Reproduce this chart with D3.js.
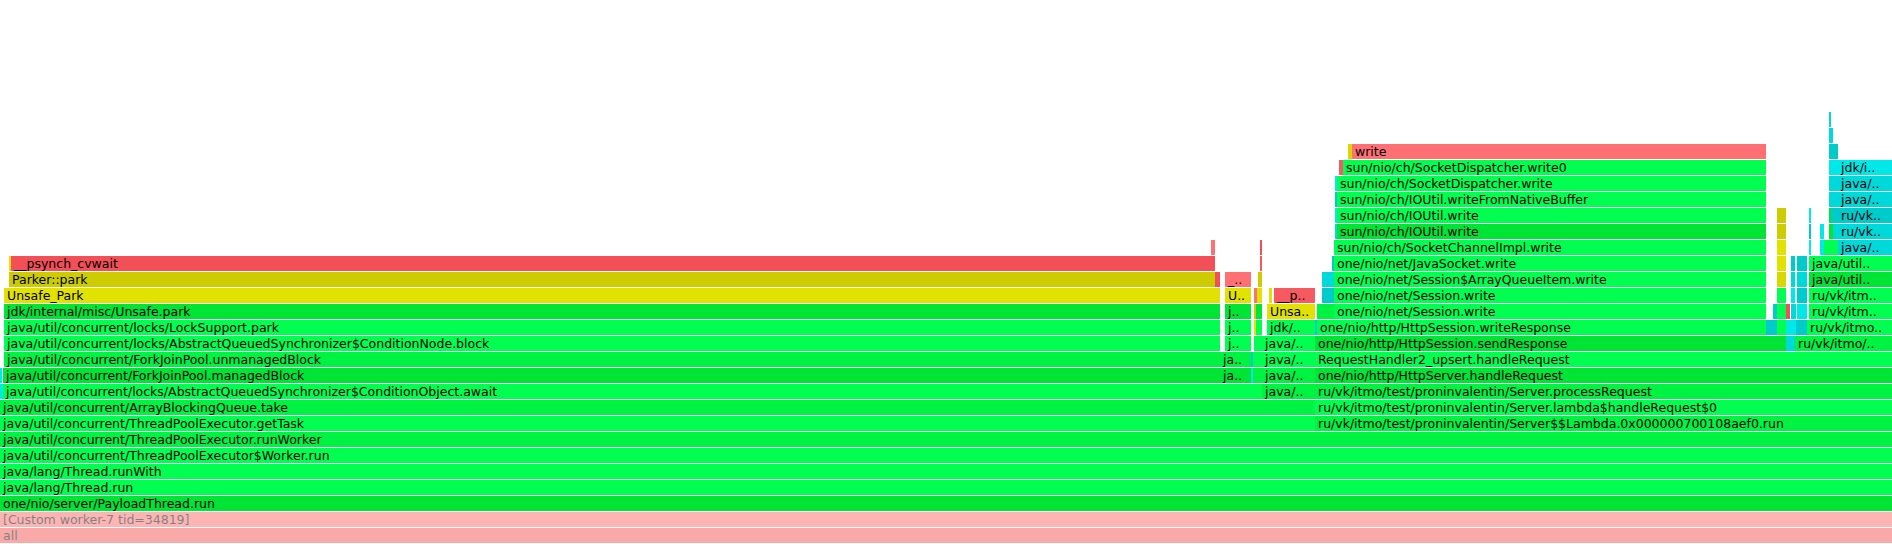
<!DOCTYPE html>
<html>
<head>
<meta charset="utf-8">
<script src="https://cdn.jsdelivr.net/npm/d3@7"></script>
<style>
  html, body { margin: 0; padding: 0; background: #ffffff; }
  svg { display: block; }
</style>
</head>
<body>
<svg id="chart"></svg>
<script>
// ---------------- DATA (sample counts) ----------------
const totalSamples = 9460;

// Each frame: [depth, first sample, samples, frame kind, name]
const threadFrames = [
  [0, 0, 9460, 'root', 'all'],
  [1, 0, 9460, 'thread', '[Custom worker-7 tid=34819]'],
  [2, 0, 9460, 'jit', 'one/nio/server/PayloadThread.run'],
  [3, 0, 9460, 'jit', 'java/lang/Thread.run'],
  [4, 0, 9460, 'jit', 'java/lang/Thread.runWith'],
  [5, 0, 9460, 'jit', 'java/util/concurrent/ThreadPoolExecutor$Worker.run'],
  [6, 0, 9460, 'jit', 'java/util/concurrent/ThreadPoolExecutor.runWorker'],
  [7, 0, 6575, 'jit', 'java/util/concurrent/ThreadPoolExecutor.getTask'],
  [8, 0, 6575, 'jit', 'java/util/concurrent/ArrayBlockingQueue.take']
];

const parkFrames = [
  [9, 0, 15, 'inl', 'java/util/concurrent/locks/AbstractQueuedSynchronizer$ConditionObject.enableWait'],
  [9, 15, 6295, 'jit', 'java/util/concurrent/locks/AbstractQueuedSynchronizer$ConditionObject.await'],
  [10, 0, 10, 'inl', 'java/util/concurrent/locks/AbstractQueuedSynchronizer.release'],
  [10, 15, 6085, 'jit', 'java/util/concurrent/ForkJoinPool.managedBlock'],
  [11, 20, 6080, 'jit', 'java/util/concurrent/ForkJoinPool.unmanagedBlock'],
  [12, 20, 6080, 'jit', 'java/util/concurrent/locks/AbstractQueuedSynchronizer$ConditionNode.block'],
  [13, 20, 6080, 'jit', 'java/util/concurrent/locks/LockSupport.park'],
  [14, 20, 6080, 'jit', 'jdk/internal/misc/Unsafe.park'],
  [15, 20, 6080, 'cpp', 'Unsafe_Park'],
  [16, 45, 6030, 'cpp', 'Parker::park'],
  [16, 6075, 25, 'nat', 'pthread_mutex_unlock'],
  [17, 45, 10, 'cpp', 'JavaThread::is_interrupted'],
  [17, 55, 6000, 'nat', '__psynch_cvwait'],
  [17, 6055, 20, 'nat', '_pthread_cond_wait'],
  [18, 6055, 20, 'nat', '__psynch_cvwait']
];

const signalFrames = [
  [10, 6100, 155, 'jit', 'java/util/concurrent/ForkJoinPool.managedBlock'],
  [10, 6255, 10, 'inl', 'java/util/concurrent/locks/AbstractQueuedSynchronizer.signalNext'],
  [10, 6265, 45, 'jit', 'java/util/concurrent/locks/AbstractQueuedSynchronizer.acquire'],
  [11, 6100, 155, 'jit', 'java/util/concurrent/ForkJoinPool.unmanagedBlock'],
  [11, 6255, 10, 'inl', 'java/util/concurrent/locks/LockSupport.unpark'],
  [11, 6265, 45, 'jit', 'java/util/concurrent/locks/AbstractQueuedSynchronizer.acquire'],
  [12, 6125, 130, 'jit', 'java/util/concurrent/locks/AbstractQueuedSynchronizer$ConditionNode.block'],
  [12, 6270, 40, 'jit', 'java/util/concurrent/locks/LockSupport.park'],
  [13, 6125, 130, 'jit', 'java/util/concurrent/locks/LockSupport.park'],
  [13, 6270, 10, 'cpp', 'ThreadStateTransition::trans'],
  [13, 6280, 30, 'jit', 'jdk/internal/misc/Unsafe.park'],
  [14, 6125, 130, 'jit', 'jdk/internal/misc/Unsafe.park'],
  [14, 6270, 10, 'cpp', 'JavaThreadParkedState::JavaThreadParkedState'],
  [14, 6280, 30, 'jit', 'jdk/internal/misc/Unsafe.park'],
  [15, 6125, 130, 'cpp', 'Unsafe_Park'],
  [15, 6270, 15, 'nat', 'pthread_mutex_trylock'],
  [15, 6285, 25, 'cpp', 'Unsafe_Park'],
  [16, 6125, 130, 'nat', '__psynch_cvwait'],
  [16, 6290, 20, 'cpp', 'Parker::park'],
  [17, 6300, 10, 'nat', '_pthread_cond_wait'],
  [18, 6300, 10, 'nat', '__psynch_cvwait']
];

const lockFrames = [
  [9, 6310, 265, 'jit', 'java/util/concurrent/locks/ReentrantLock.lockInterruptibly'],
  [10, 6310, 265, 'jit', 'java/util/concurrent/locks/ReentrantLock$Sync.lockInterruptibly'],
  [11, 6310, 265, 'jit', 'java/util/concurrent/locks/AbstractQueuedSynchronizer.acquire'],
  [12, 6310, 265, 'jit', 'java/util/concurrent/locks/LockSupport.park'],
  [13, 6335, 240, 'jit', 'jdk/internal/misc/Unsafe.park'],
  [14, 6335, 240, 'cpp', 'Unsafe_Park'],
  [15, 6345, 15, 'cpp', 'Parker::park'],
  [15, 6370, 205, 'nat', '__psynch_cvwait']
];

const requestFrames = [
  [7, 6575, 2885, 'jit', 'ru/vk/itmo/test/proninvalentin/Server$$Lambda.0x000000700108aef0.run'],
  [8, 6575, 2885, 'jit', 'ru/vk/itmo/test/proninvalentin/Server.lambda$handleRequest$0'],
  [9, 6575, 2885, 'jit', 'ru/vk/itmo/test/proninvalentin/Server.processRequest'],
  [10, 6575, 2885, 'jit', 'one/nio/http/HttpServer.handleRequest'],
  [11, 6575, 2885, 'jit', 'RequestHandler2_upsert.handleRequest'],
  [12, 6575, 2355, 'jit', 'one/nio/http/HttpSession.sendResponse'],
  [12, 8930, 45, 'inl', 'one/nio/http/Request.getParameter'],
  [12, 8975, 485, 'jit', 'ru/vk/itmo/test/proninvalentin/Server.upsert'],
  [13, 6575, 10, 'inl', 'one/nio/http/Response.toBytes'],
  [13, 6585, 2245, 'jit', 'one/nio/http/HttpSession.writeResponse'],
  [13, 8830, 55, 'inl', 'one/nio/http/Response.toBytes'],
  [13, 8885, 45, 'jit', 'one/nio/net/Session.write'],
  [13, 8930, 50, 'inl', 'one/nio/util/URLEncoder.decode'],
  [13, 8980, 55, 'inl', 'java/lang/foreign/MemorySegment.ofArray'],
  [13, 9035, 425, 'jit', 'ru/vk/itmo/test/proninvalentin/dao/InMemoryDao.upsert'],
  [14, 6585, 85, 'jit', 'one/nio/http/Response.toBytes'],
  [14, 6670, 2160, 'jit', 'one/nio/net/Session.write'],
  [14, 8865, 20, 'inl', 'one/nio/util/ByteArrayBuilder.append'],
  [14, 8885, 45, 'jit', 'one/nio/net/Session.write'],
  [14, 8930, 20, 'nat', 'pthread_getspecific'],
  [14, 8955, 25, 'inl', 'java/lang/String.getBytes'],
  [14, 8985, 50, 'inl', 'jdk/internal/foreign/HeapMemorySegmentImpl.<init>'],
  [14, 9045, 415, 'jit', 'ru/vk/itmo/test/proninvalentin/dao/InMemoryDao.upsert'],
  [15, 6610, 60, 'inl', 'one/nio/util/ByteArrayBuilder.append'],
  [15, 6670, 2160, 'jit', 'one/nio/net/Session.write'],
  [15, 8885, 45, 'jit', 'one/nio/net/Session$ArrayQueueItem.write'],
  [15, 8955, 20, 'inl', 'java/lang/String.encode'],
  [15, 8985, 50, 'inl', 'jdk/internal/foreign/AbstractMemorySegmentImpl.<init>'],
  [15, 9045, 415, 'jit', 'ru/vk/itmo/test/proninvalentin/dao/InMemoryDao.put'],
  [16, 6610, 60, 'inl', 'java/lang/System.arraycopy'],
  [16, 6670, 2160, 'jit', 'one/nio/net/Session$ArrayQueueItem.write'],
  [16, 8885, 45, 'cpp', 'SharedRuntime::complete_monitor_unlocking_C'],
  [16, 8955, 20, 'inl', 'java/lang/String.encodeUTF8'],
  [16, 8985, 50, 'inl', 'jdk/internal/foreign/MemorySessionImpl.heapSession'],
  [16, 9045, 415, 'jit', 'java/util/concurrent/ConcurrentSkipListMap.put'],
  [17, 6660, 10, 'inl', 'one/nio/net/Session.isOpen'],
  [17, 6670, 2160, 'jit', 'one/nio/net/JavaSocket.write'],
  [17, 8885, 45, 'cpp', 'ObjectMonitor::exit'],
  [17, 8955, 20, 'inl', 'java/util/Arrays.copyOf'],
  [17, 8985, 50, 'inl', 'jdk/internal/foreign/GlobalSession.<init>'],
  [17, 9045, 415, 'jit', 'java/util/concurrent/ConcurrentSkipListMap.doPut'],
  [18, 6670, 2160, 'jit', 'sun/nio/ch/SocketChannelImpl.write'],
  [18, 8885, 45, 'cpp', 'ObjectMonitor::ExitEpilog'],
  [18, 9045, 10, 'inl', 'java/util/concurrent/ConcurrentSkipListMap.addIndices'],
  [18, 9100, 20, 'inl', 'java/util/concurrent/ThreadLocalRandom.nextSecondarySeed'],
  [18, 9120, 70, 'jit', 'java/util/concurrent/ConcurrentSkipListMap.findPredecessor'],
  [18, 9190, 270, 'inl', 'java/util/concurrent/ConcurrentSkipListMap.cpr'],
  [19, 6675, 10, 'inl', 'sun/nio/ch/SocketChannelImpl.beginWrite'],
  [19, 6685, 2145, 'jit', 'sun/nio/ch/IOUtil.write'],
  [19, 8885, 45, 'cpp', 'ObjectMonitor::exit_epilog'],
  [19, 9045, 10, 'inl', 'java/util/concurrent/ConcurrentSkipListMap.cpr'],
  [19, 9100, 20, 'inl', 'java/lang/Thread.currentThread'],
  [19, 9145, 20, 'jit', 'java/util/concurrent/ConcurrentSkipListMap.cpr'],
  [19, 9165, 25, 'inl', 'ru/vk/itmo/test/proninvalentin/dao/MemorySegmentComparator.compare'],
  [19, 9190, 270, 'inl', 'ru/vk/itmo/test/proninvalentin/dao/MemorySegmentComparator.compare'],
  [20, 6675, 10, 'inl', 'sun/nio/ch/IOUtil.acquireScope'],
  [20, 6685, 2145, 'jit', 'sun/nio/ch/IOUtil.write'],
  [20, 8885, 45, 'cpp', 'os::PlatformEvent::unpark'],
  [20, 9045, 10, 'inl', 'ru/vk/itmo/test/proninvalentin/dao/MemorySegmentComparator.compare'],
  [20, 9145, 10, 'jit', 'ru/vk/itmo/test/proninvalentin/dao/MemorySegmentComparator.compare'],
  [20, 9155, 35, 'inl', 'ru/vk/itmo/test/proninvalentin/dao/MemorySegmentComparator.compare'],
  [20, 9190, 270, 'inl', 'ru/vk/itmo/test/proninvalentin/dao/Utils.compareMemorySegments'],
  [21, 6675, 10, 'inl', 'sun/nio/ch/Util.getTemporaryDirectBuffer'],
  [21, 6685, 2145, 'jit', 'sun/nio/ch/IOUtil.writeFromNativeBuffer'],
  [21, 9145, 45, 'inl', 'java/lang/foreign/MemorySegment.mismatch'],
  [21, 9190, 270, 'inl', 'java/lang/foreign/MemorySegment.mismatch'],
  [22, 6675, 10, 'inl', 'java/nio/Buffer.position'],
  [22, 6685, 2145, 'jit', 'sun/nio/ch/SocketDispatcher.write'],
  [22, 9145, 45, 'inl', 'java/lang/foreign/MemorySegment.asSlice'],
  [22, 9190, 270, 'inl', 'java/lang/foreign/MemorySegment.asSlice'],
  [23, 6695, 20, 'nat', 'Java_sun_nio_ch_SocketDispatcher_write0'],
  [23, 6715, 2115, 'jit', 'sun/nio/ch/SocketDispatcher.write0'],
  [23, 9145, 45, 'inl', 'jdk/internal/foreign/AbstractMemorySegmentImpl.checkAccess'],
  [23, 9190, 270, 'inl', 'jdk/internal/foreign/AbstractMemorySegmentImpl.checkBounds'],
  [24, 6740, 20, 'cpp', 'fdval'],
  [24, 6760, 2070, 'nat', 'write'],
  [24, 9145, 45, 'inl', 'jdk/internal/util/Preconditions.checkFromIndexSize'],
  [25, 9145, 20, 'inl', 'jdk/internal/util/Preconditions.outOfBoundsCheckFromIndexSize'],
  [26, 9145, 10, 'inl', 'jdk/internal/util/Preconditions.checkIndex']
];

// ---------------- STYLE ----------------
const W = 1892, H = 544, ROW = 16, BAR_H = 15;

const palettes = {
  jit: ['#00ff50', '#00f243', '#00e435'],
  inl: ['#00e8e8', '#00d9d9', '#00cbcb'],
  cpp: ['#e2e200', '#d8d800', '#cccc00'],
  nat: ['#ff7075', '#f65a60', '#f24f57'],
  root: ['#f55353'],
  thread: ['#ff6868']
};

// shade choices for prominent frames (0 = light, 2 = dark)
const shadeOf = new Map([
  ['2|one/nio/server/PayloadThread.run', 2],
  ['3|java/lang/Thread.run', 0],
  ['4|java/lang/Thread.runWith', 0],
  ['5|java/util/concurrent/ThreadPoolExecutor$Worker.run', 0],
  ['6|java/util/concurrent/ThreadPoolExecutor.runWorker', 1],
  ['7|java/util/concurrent/ThreadPoolExecutor.getTask', 0],
  ['7|ru/vk/itmo/test/proninvalentin/Server$$Lambda.0x000000700108aef0.run', 1],
  ['8|java/util/concurrent/ArrayBlockingQueue.take', 1],
  ['8|ru/vk/itmo/test/proninvalentin/Server.lambda$handleRequest$0', 0],
  ['9|java/util/concurrent/locks/AbstractQueuedSynchronizer$ConditionObject.await', 0],
  ['9|ru/vk/itmo/test/proninvalentin/Server.processRequest', 1],
  ['9|java/util/concurrent/locks/ReentrantLock.lockInterruptibly', 1],
  ['10|java/util/concurrent/ForkJoinPool.managedBlock', 2],
  ['10|one/nio/http/HttpServer.handleRequest', 2],
  ['10|java/util/concurrent/locks/ReentrantLock$Sync.lockInterruptibly', 1],
  ['11|java/util/concurrent/ForkJoinPool.unmanagedBlock', 1],
  ['11|RequestHandler2_upsert.handleRequest', 0],
  ['11|java/util/concurrent/locks/AbstractQueuedSynchronizer.acquire', 0],
  ['12|java/util/concurrent/locks/AbstractQueuedSynchronizer$ConditionNode.block', 0],
  ['12|one/nio/http/HttpSession.sendResponse', 2],
  ['12|ru/vk/itmo/test/proninvalentin/Server.upsert', 1],
  ['12|java/util/concurrent/locks/LockSupport.park', 0],
  ['13|java/util/concurrent/locks/LockSupport.park', 0],
  ['13|one/nio/http/HttpSession.writeResponse', 0],
  ['13|ru/vk/itmo/test/proninvalentin/dao/InMemoryDao.upsert', 0],
  ['13|jdk/internal/misc/Unsafe.park', 0],
  ['14|jdk/internal/misc/Unsafe.park', 2],
  ['14|one/nio/net/Session.write', 0],
  ['14|ru/vk/itmo/test/proninvalentin/dao/InMemoryDao.upsert', 0],
  ['15|one/nio/net/Session.write', 0],
  ['15|Unsafe_Park', 0],
  ['15|ru/vk/itmo/test/proninvalentin/dao/InMemoryDao.put', 0],
  ['15|__psynch_cvwait', 1],
  ['14|Unsafe_Park', 0],
  ['16|Parker::park', 2],
  ['16|one/nio/net/Session$ArrayQueueItem.write', 0],
  ['16|java/util/concurrent/ConcurrentSkipListMap.put', 2],
  ['16|__psynch_cvwait', 0],
  ['17|__psynch_cvwait', 2],
  ['17|one/nio/net/JavaSocket.write', 0],
  ['17|java/util/concurrent/ConcurrentSkipListMap.doPut', 0],
  ['18|sun/nio/ch/SocketChannelImpl.write', 0],
  ['18|java/util/concurrent/ConcurrentSkipListMap.cpr', 1],
  ['19|sun/nio/ch/IOUtil.write', 2],
  ['19|ru/vk/itmo/test/proninvalentin/dao/MemorySegmentComparator.compare', 1],
  ['20|sun/nio/ch/IOUtil.write', 0],
  ['20|ru/vk/itmo/test/proninvalentin/dao/Utils.compareMemorySegments', 2],
  ['21|sun/nio/ch/IOUtil.writeFromNativeBuffer', 0],
  ['21|java/lang/foreign/MemorySegment.mismatch', 1],
  ['22|sun/nio/ch/SocketDispatcher.write', 0],
  ['22|java/lang/foreign/MemorySegment.asSlice', 1],
  ['23|sun/nio/ch/SocketDispatcher.write0', 0],
  ['23|jdk/internal/foreign/AbstractMemorySegmentImpl.checkBounds', 0],
  ['24|write', 0]
]);

function hashOf(s) {
  let h = 2166136261;
  for (let i = 0; i < s.length; i++) h = Math.imul(h ^ s.charCodeAt(i), 16777619);
  return (h >>> 0) / 4294967296;
}

function colorOf(f) {
  const pal = palettes[f.kind];
  const key = f.depth + '|' + f.name;
  let idx = shadeOf.has(key) ? shadeOf.get(key) : Math.floor(hashOf(key + f.start) * pal.length);
  return pal[Math.min(idx, pal.length - 1)];
}

// ---------------- DRAW ----------------
const frames = [...threadFrames, ...parkFrames, ...signalFrames, ...lockFrames, ...requestFrames]
  .map(([depth, start, samples, kind, name]) => ({ depth, start, samples, kind, name }));

const x = d3.scaleLinear().domain([0, totalSamples]).range([0, W]);
const maxDepth = d3.max(frames, d => d.depth);
const yScale = d3.scaleLinear().domain([0, maxDepth + 1]).range([H - ROW, H - ROW * (maxDepth + 2)]);

const svg = d3.select('#chart').attr('width', W).attr('height', H)
  .attr('font-family', '"DejaVu Sans", Verdana, sans-serif').attr('font-size', 12.5);

const g = svg.selectAll('g.frame').data(frames).join('g').attr('class', 'frame')
  .attr('transform', d => `translate(${x(d.start)},${yScale(d.depth)})`);

g.append('rect')
  .attr('width', d => x(d.start + d.samples) - x(d.start))
  .attr('height', BAR_H)
  .attr('fill', colorOf);

g.each(function (d) {
  const w = x(d.start + d.samples) - x(d.start);
  if (w < 21) return;
  const chars = Math.floor(w / 7);
  const title = d.name.length <= chars ? d.name : d.name.substring(0, chars - 2) + '..';
  const t = d3.select(this).append('text')
    .attr('x', 3).attr('y', 12).attr('fill', '#000000').text(title);
  const len = t.node().getComputedTextLength();
  if (len > w - 6) t.attr('textLength', w - 6).attr('lengthAdjust', 'spacingAndGlyphs');
});

// frames below the zoomed-in root are faded
g.filter(d => d.kind === 'root' || d.kind === 'thread')
  .append('rect')
  .attr('width', d => x(d.start + d.samples) - x(d.start))
  .attr('height', BAR_H)
  .attr('fill', 'rgba(255,255,255,0.5)');
</script>
</body>
</html>
